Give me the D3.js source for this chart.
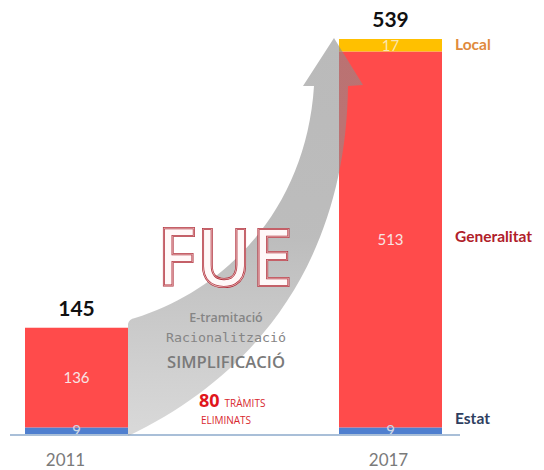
<!DOCTYPE html>
<html><head><meta charset="utf-8">
<script src="https://cdn.jsdelivr.net/npm/d3@7"></script>
<style>body{margin:0;background:#fff}svg{display:block}</style>
</head><body>
<script>
const years = ["2011", "2017"];
const series = ["Estat", "Generalitat", "Local"];
const estat = [9, 9];
const generalitat = [136, 513];
const local = [0, 17];
const totals = [145, 539];
const colors = {Estat:"#4f7fcf", Generalitat:"#ff4b4b", Local:"#ffc000"};
const legendColors = {Estat:"#2e3e60", Generalitat:"#b0202a", Local:"#e08a3c"};

const W = 544, H = 470;
const svg = d3.select("body").append("svg").attr("width", W).attr("height", H);
const x = d3.scaleBand().domain(years).range([25, 442]).paddingInner(0.672).paddingOuter(0);
const y = d3.scaleLinear().domain([0, 539]).range([434, 39]);

const rows = years.map((yr, i) => ({year: yr, Estat: estat[i], Generalitat: generalitat[i], Local: local[i]}));
const stacked = d3.stack().keys(series)(rows);

// bars
const g = svg.append("g");
stacked.forEach(layer => {
  g.selectAll(null).data(layer.filter(d => d[1] > d[0])).enter().append("rect")
    .attr("x", d => x(d.data.year)).attr("width", x.bandwidth())
    .attr("y", d => y(d[1])).attr("height", d => y(d[0]) - y(d[1]))
    .attr("fill", colors[layer.key]);
});

// axis line
svg.append("line").attr("x1", 10).attr("x2", 460).attr("y1", y(0)+1).attr("y2", y(0)+1)
  .attr("stroke", "#a9bfd8").attr("stroke-width", 2);

// arrow decoration
const defs = svg.append("defs");
const grad = defs.append("linearGradient").attr("id","ag").attr("x1","0").attr("y1","1").attr("x2","0").attr("y2","0");
grad.append("stop").attr("offset","0").attr("stop-color","#a0a0a0").attr("stop-opacity",0.4);
grad.append("stop").attr("offset","0.5").attr("stop-color","#909090").attr("stop-opacity",0.6);
grad.append("stop").attr("offset","1").attr("stop-color","#8c8c8c").attr("stop-opacity",0.6);
const p = d3.path();
p.moveTo(128, 436);
p.lineTo(128, 324);
p.quadraticCurveTo(129, 319, 135, 318);
p.bezierCurveTo(225, 290, 306, 210, 314, 86);
p.lineTo(303, 86);
p.lineTo(334, 38);
p.lineTo(363, 85);
p.lineTo(348, 86);
p.bezierCurveTo(346, 255, 262, 372, 128, 436);
p.closePath();
svg.append("path").attr("d", p.toString()).attr("fill", "url(#ag)");

// segment value labels
stacked.forEach(layer => {
  g.selectAll(null).data(layer.filter(d => d[1] > d[0])).enter().append("text")
    .attr("x", d => x(d.data.year) + x.bandwidth()/2)
    .attr("y", d => (y(d[0]) + y(d[1]))/2)
    .attr("dy", "0.36em").attr("text-anchor", "middle")
    .attr("font-family", "Lato, 'Open Sans', sans-serif").attr("font-size", 15)
    .attr("fill", layer.key === "Estat" ? "#cfd8e4" : (layer.key === "Local" ? "#fbe6b0" : "#f7e4e4"))
    .text(d => d[1] - d[0]);
});

// totals
svg.selectAll(null).data(years).enter().append("text")
  .attr("x", d => x(d) + x.bandwidth()/2).attr("y", (d, i) => y(totals[i]) - 12)
  .attr("text-anchor", "middle").attr("font-family", "Lato, sans-serif").attr("font-weight", "bold")
  .attr("font-size", 21).attr("fill", "#111").text((d, i) => totals[i]);

// year labels
svg.selectAll(null).data(years).enter().append("text")
  .attr("x", (d, i) => x(d) + x.bandwidth()/2 - (i === 0 ? 11 : 2)).attr("y", 466)
  .attr("text-anchor", "middle").attr("font-family", "Lato, sans-serif")
  .attr("font-size", 17).attr("fill", "#7a7a7a").text(d => d);

// legend labels on right
const legendY = {Local: 44, Generalitat: 236, Estat: 418};
series.forEach(s => {
  svg.append("text").attr("x", 455).attr("y", legendY[s]).attr("dy", "0.36em")
    .attr("font-family", "Lato, sans-serif").attr("font-weight", "bold").attr("font-size", 15.5)
    .attr("fill", legendColors[s]).text(s);
});

// FUE
svg.append("text").attr("x", 225).attr("y", 286).attr("text-anchor", "middle")
  .attr("font-family", "'Open Sans', sans-serif").attr("font-weight", 600).attr("font-size", 80)
  .attr("textLength", 136).attr("lengthAdjust", "spacingAndGlyphs")
  .attr("fill", "#fff8f8").attr("stroke", "#b0303c").attr("stroke-width", 2.2).text("FUE");
svg.append("text").attr("x", 225).attr("y", 286).attr("text-anchor", "middle")
  .attr("font-family", "'Open Sans', sans-serif").attr("font-weight", 600).attr("font-size", 80)
  .attr("textLength", 136).attr("lengthAdjust", "spacingAndGlyphs")
  .attr("fill", "none").attr("stroke", "#f0c8c8").attr("stroke-width", 0.6).text("FUE");

svg.append("text").attr("x", 226).attr("y", 322).attr("text-anchor", "middle")
  .attr("font-family", "'Open Sans', sans-serif").attr("font-weight", 600).attr("font-size", 12.5)
  .attr("fill", "#858585").text("E-tramitació");
svg.append("text").attr("x", 226).attr("y", 342).attr("text-anchor", "middle")
  .attr("font-family", "'DejaVu Sans Mono', monospace").attr("font-size", 12.5)
  .attr("textLength", 120).attr("lengthAdjust", "spacingAndGlyphs")
  .attr("fill", "#858585").text("Racionalització");
svg.append("text").attr("x", 226).attr("y", 368).attr("text-anchor", "middle")
  .attr("font-family", "'Open Sans', sans-serif").attr("font-weight", 600).attr("font-size", 15.5)
  .attr("textLength", 118).attr("lengthAdjust", "spacingAndGlyphs")
  .attr("fill", "#7a7a7a").text("SIMPLIFICACIÓ");
const t80 = svg.append("text").attr("x", 199).attr("y", 407).attr("font-family", "'Open Sans', sans-serif");
t80.append("tspan").attr("font-weight", "bold").attr("font-size", 18).attr("fill", "#e0161c").text("80");
t80.append("tspan").attr("dx", 5).attr("font-size", 10).attr("fill", "#d8282e").text("TRÀMITS");
svg.append("text").attr("x", 226).attr("y", 424).attr("text-anchor", "middle")
  .attr("font-family", "'Open Sans', sans-serif").attr("font-size", 10).attr("fill", "#d8282e").text("ELIMINATS");
</script>
</body></html>
